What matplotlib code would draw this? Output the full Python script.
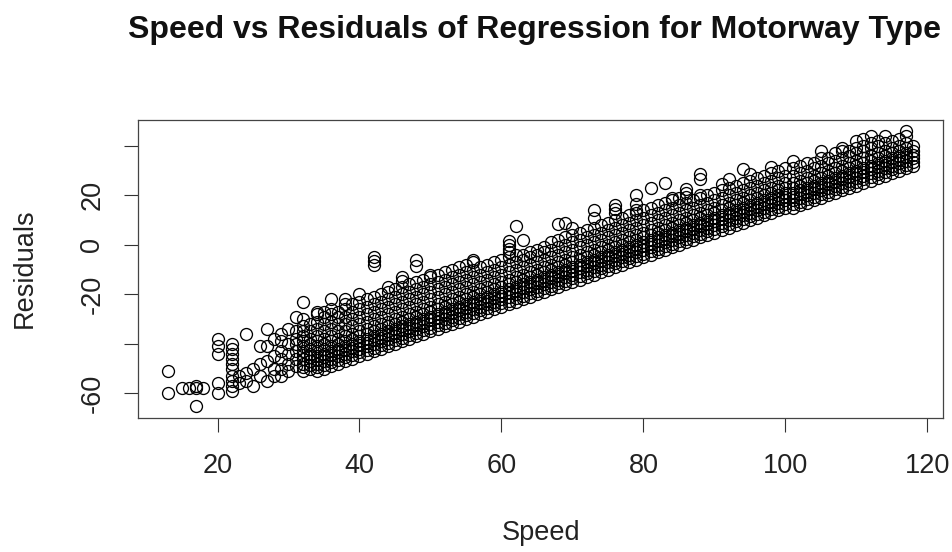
import matplotlib
matplotlib.use("Agg")
import matplotlib.pyplot as plt

# ---- data: residuals grouped by (integer) speed ----
speeds = [13, 15, 16, 17, 18, 20, 22, 23, 24, 25, 26, 27, 28, 29, 30, 31,
          32, 33, 34, 35, 36, 37, 38, 39, 40, 41, 42, 43, 44, 45, 46, 47,
          48, 49, 50, 51, 52, 53, 54, 55, 56, 57, 58, 59, 60, 61, 62, 63,
          64, 65, 66, 67, 68, 69, 70, 71, 72, 73, 74, 75, 76, 77, 78, 79,
          80, 81, 82, 83, 84, 85, 86, 87, 88, 89, 90, 91, 92, 93, 94, 95,
          96, 97, 98, 99, 100, 101, 102, 103, 104, 105, 106, 107, 108, 109,
          110, 111, 112, 113, 114, 115, 116, 117, 118]

residuals = [
    [-51, -60],                                   # 13
    [-58],                                        # 15
    [-58],                                        # 16
    [-58, -57, -65],                              # 17
    [-58],                                        # 18
    [-38, -41, -44, -56, -60],                    # 20
    [-40, -42, -44, -46, -48, -50, -53, -55, -57, -59],  # 22
    [-53, -56],                                   # 23
    [-36, -52, -55],                              # 24
    [-50, -57],                                   # 25
    [-41, -48, -53],                              # 26
    [-34, -41, -47, -55],                         # 27
    [-38, -45, -50, -53],                         # 28
    [-36, -39, -43, -46, -50, -53],               # 29
    [-34, -40, -44, -48, -51],                    # 30
    [-29, -35, -38, -40, -43, -46, -49],          # 31
    [-51, -49.5, -48, -46, -44.5, -43, -41, -39, -37, -35, -33, -30, -23],  # 32
    [-50, -48.5, -47, -45.5, -44, -42, -40, -38, -35, -32],  # 33
    [-51, -49.5, -48, -46.5, -45, -43, -41, -39, -37, -34, -31, -28, -27],  # 34
    [-50, -48.5, -47, -45.5, -44, -42, -40, -38, -35, -32, -29, -27],  # 35
    [-49, -47.5, -46, -44.5, -43, -41, -39, -37, -34, -31, -28, -26, -22],  # 36
    [-48, -46.5, -45, -43.5, -42, -40, -38, -35, -32, -29, -27],  # 37
    [-47, -45.5, -44, -42.5, -41, -39, -37, -35, -32, -29, -26, -24, -22],  # 38
    [-46, -44.5, -43, -41.5, -40, -38, -36, -33, -30, -27, -24],  # 39
    [-45, -43.5, -42, -40.5, -39, -37, -35, -32, -29, -26, -23, -20],  # 40
    [-44, -42.5, -41, -39.5, -38, -36, -34, -31, -28, -25, -22],  # 41
    [-43, -41.5, -40, -38.5, -37, -35, -33, -30, -27, -24, -21, -8, -6.5, -5],  # 42
    [-42, -40.5, -39, -37.5, -36, -34, -32, -29, -26, -23, -20],  # 43
    [-41, -39.5, -38, -36.5, -35, -33, -31, -28, -25, -22, -19, -17],  # 44
    [-40, -38.5, -37, -35.5, -34, -32, -30, -27, -24, -21, -18],  # 45
    [-39, -37.5, -36, -34.5, -33, -31, -29, -26, -23, -20, -17, -14.5, -13],  # 46
    [-38, -36.5, -35, -33.5, -32, -30, -28, -25, -22, -19, -16],  # 47
    [-37, -35.5, -34, -32.5, -31, -29, -27, -24, -21, -18, -15, -8.5, -6],  # 48
    [-36, -34.5, -33, -31.5, -30, -28, -26, -23, -20, -17, -14],  # 49
    [-35, -33.5, -32, -30.5, -29, -27, -25, -22, -19, -16, -13, -12],  # 50
    [-34, -32.5, -31, -29.5, -28, -26, -24, -21, -18, -15, -12],  # 51
    [-33, -31.5, -30, -28.5, -27, -25, -23, -20, -17, -14, -11],  # 52
    [-32, -30.5, -29, -27.5, -26, -24, -22, -19, -16, -13, -10],  # 53
    [-31, -29.5, -28, -26.5, -25, -23, -21, -18, -15, -12, -9],  # 54
    [-30, -28.5, -27, -25.5, -24, -22, -20, -17, -14, -11, -8],  # 55
    [-29, -27.5, -26, -24.5, -23, -21, -19, -16, -13, -10, -7, -6],  # 56
    [-28, -26.5, -25, -23.5, -22, -20, -18, -15, -12, -9],  # 57
    [-27, -25.5, -24, -22.5, -21, -19, -17, -14, -11, -8],  # 58
    [-26, -24.5, -23, -21.5, -20, -18, -16, -13, -10, -7],  # 59
    [-25, -23.5, -22, -20.5, -19, -17, -15, -12, -9, -6],  # 60
    [-24, -22.5, -21, -19.5, -18, -16, -14, -11, -8, -5, -3, -1.5, 0, 1.5],  # 61
    [-23, -21.5, -20, -18.5, -17, -15, -13, -10, -7, -4, 7.5],  # 62
    [-22, -20.5, -19, -17.5, -16, -14, -12, -9, -6, -4, 2],  # 63
    [-21, -19.5, -18, -16.5, -15, -13, -11, -8, -5, -3],  # 64
    [-20, -18.5, -17, -15.5, -14, -12, -10, -7, -4, -2],  # 65
    [-19, -17.5, -16, -14.5, -13, -11, -9, -6, -3, -1],  # 66
    [-18, -16.5, -15, -13.5, -12, -10, -8, -5, -2, 1],  # 67
    [-17, -15.5, -14, -12.5, -11, -9, -7, -4, -1, 2, 8.5],  # 68
    [-16, -14.5, -13, -11.5, -10, -8, -6, -3, 0, 3, 9],  # 69
    [-15, -13.5, -12, -10.5, -9, -7, -5, -2, 1, 4, 7],  # 70
    [-14, -12.5, -11, -9.5, -8, -6, -4, -1, 2, 5],  # 71
    [-13, -11.5, -10, -8.5, -7, -5, -3, 0, 3, 6],  # 72
    [-12, -10.5, -9, -7.5, -6, -4, -2, 1, 4, 7, 11, 14],  # 73
    [-11, -9.5, -8, -6.5, -5, -3, -1, 2, 5, 8],  # 74
    [-10, -8.5, -7, -5.5, -4, -2, 0, 3, 6, 9],  # 75
    [-9, -7.5, -6, -4.5, -3, -1, 1, 4, 7, 10, 13, 14.5, 16],  # 76
    [-8, -6.5, -5, -3.5, -2, 0, 2, 5, 8, 11],  # 77
    [-7, -5.5, -4, -2.5, -1, 1, 3, 6, 9, 12],  # 78
    [-6, -4.5, -3, -1.5, 0, 2, 4, 7, 10, 13, 14, 16.5, 20],  # 79
    [-5, -3.5, -2, -0.5, 1, 3, 5, 8, 11, 14],  # 80
    [-4, -2.5, -1, 0.5, 2, 4, 6, 9, 12, 15, 23],  # 81
    [-3, -1.5, 0, 1.5, 3, 5, 7, 10, 13, 16],  # 82
    [-2, -0.5, 1, 2.5, 4, 6, 8, 11, 14, 17, 25],  # 83
    [-1, 0.5, 2, 3.5, 5, 7, 9, 12, 15, 18, 19],  # 84
    [0, 1.5, 3, 4.5, 6, 8, 10, 13, 16, 19],  # 85
    [1, 2.5, 4, 5.5, 7, 9, 11, 14, 17, 19.5, 21, 22.5],  # 86
    [2, 3.5, 5, 6.5, 8, 10, 12, 15, 18],  # 87
    [3, 4.5, 6, 7.5, 9, 11, 13, 16, 19, 20, 26.5, 28.5],  # 88
    [4, 5.5, 7, 8.5, 10, 12, 14, 17, 20],  # 89
    [5, 6.5, 8, 9.5, 11, 13, 15, 18, 21],  # 90
    [6, 7.5, 9, 10.5, 12, 14, 16, 19, 22, 24.5],  # 91
    [7, 8.5, 10, 11.5, 13, 15, 17, 20, 23, 26.5],  # 92
    [8, 9.5, 11, 12.5, 14, 16, 18, 21, 24],  # 93
    [9, 10.5, 12, 13.5, 15, 17, 19, 22, 25, 30.5],  # 94
    [10, 11.5, 13, 14.5, 16, 18, 20, 23, 26, 28.5],  # 95
    [11, 12.5, 14, 15.5, 17, 19, 21, 24, 27],  # 96
    [12, 13.5, 15, 16.5, 18, 20, 22, 25, 28],  # 97
    [13, 14.5, 16, 17.5, 19, 21, 23, 26, 29, 31.5],  # 98
    [14, 15.5, 17, 18.5, 20, 22, 24, 27, 30],  # 99
    [15, 16.5, 18, 19.5, 21, 23, 25, 28, 31],  # 100
    [15, 16.5, 18, 19.5, 21, 23, 25, 28, 31, 34],  # 101
    [16, 17.5, 19, 20.5, 22, 24, 26, 29, 32],  # 102
    [17, 18.5, 20, 21.5, 23, 25, 27, 30, 33],  # 103
    [18, 19.5, 21, 22.5, 24, 26, 28, 31, 33],  # 104
    [19, 20.5, 22, 23.5, 25, 27, 29, 32, 35, 38],  # 105
    [20, 21.5, 23, 24.5, 26, 28, 30, 33, 35],  # 106
    [21, 22.5, 24, 25.5, 27, 29, 31, 34, 37],  # 107
    [22, 23.5, 25, 26.5, 28, 30, 32, 35, 38, 39],  # 108
    [23, 24.5, 26, 27.5, 29, 31, 33, 36, 38],  # 109
    [24, 25.5, 27, 28.5, 30, 32, 34, 37, 39, 42],  # 110
    [25, 26.5, 28, 29.5, 31, 33, 35, 38, 40, 43],  # 111
    [26, 27.5, 29, 30.5, 32, 34, 36, 39, 41, 44],  # 112
    [27, 28.5, 30, 31.5, 33, 35, 37, 40, 42],  # 113
    [28, 29.5, 31, 32.5, 34, 36, 38, 41, 44],  # 114
    [29, 30.5, 32, 33.5, 35, 37, 39, 42],  # 115
    [30, 31.5, 33, 34.5, 36, 38, 40, 43],  # 116
    [31, 32.5, 34, 35.5, 37, 39, 41, 44, 46],  # 117
    [32, 33.5, 35, 36.5, 38, 40],  # 118
]

x_ticks = [20, 40, 60, 80, 100, 120]
y_ticks = [-60, -40, -20, 0, 20, 40]
y_tick_labels = ["-60", "", "-20", "0", "20", ""]

title = "Speed vs Residuals of Regression for Motorway Type"
x_label = "Speed"
y_label = "Residuals"

# ---- build the flat point lists ----
xs, ys = [], []
for s, col in zip(speeds, residuals):
    for r in col:
        xs.append(s)
        ys.append(r)

plt.rcParams["font.family"] = ["Liberation Sans", "DejaVu Sans"]

W, H = 953, 552
fig = plt.figure(figsize=(W / 100, H / 100), dpi=100)
L, R, T, B = 138, 943, 120, 418
ax = fig.add_axes([L / W, 1 - B / H, (R - L) / W, (B - T) / H])

ax.plot(xs, ys, linestyle="none", marker="o", markersize=8.6,
        markerfacecolor="none", markeredgecolor="black", markeredgewidth=0.95)

ax.set_xlim(8.8, 122.2)
ax.set_ylim(-70, 50.5)

ax.set_xticks(x_ticks)
ax.set_xticklabels([str(v) for v in x_ticks])
ax.set_yticks(y_ticks)
ax.set_yticklabels(y_tick_labels, rotation=90, va="center")

ax.tick_params(axis="both", direction="out", length=10, width=0.8,
               colors="#333333", labelcolor="#222222", labelsize=19.5)
ax.tick_params(axis="x", pad=15)
ax.tick_params(axis="y", pad=13.5)
for sp in ax.spines.values():
    sp.set_linewidth(0.9)
    sp.set_color("#444444")

fig.text(534 / W, 1 - 30 / H, title, ha="center", va="center",
         fontsize=23, fontweight="bold", color="#111111")
fig.text(541 / W, 1 - 533 / H, x_label, ha="center", va="center",
         fontsize=19.5, color="#222222")
fig.text(25 / W, 1 - 268 / H, y_label, ha="center", va="center",
         rotation=90, fontsize=19.5, color="#222222")

fig.savefig("out.png", dpi=100)
